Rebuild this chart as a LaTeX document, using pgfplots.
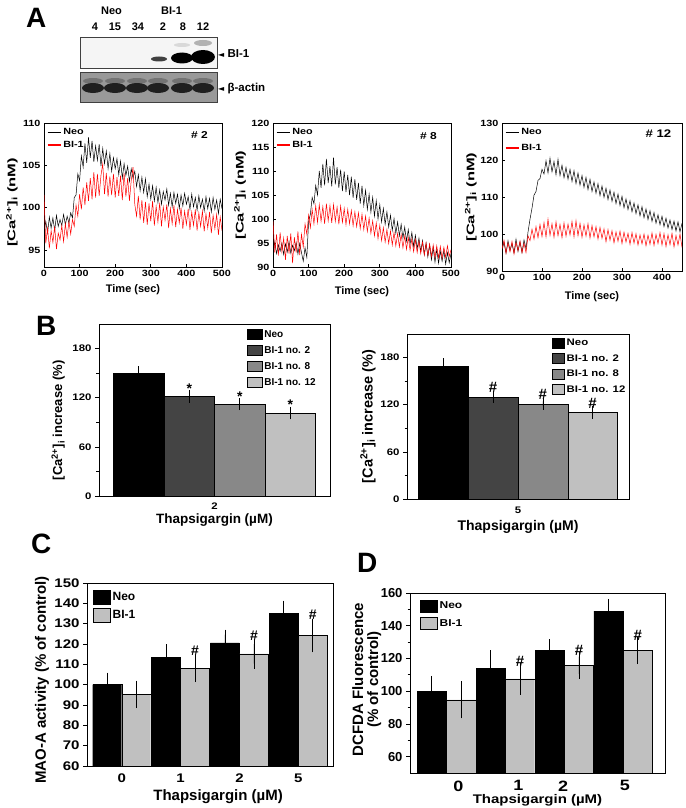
\documentclass[border=0pt]{standalone}
\usepackage{fontspec}
\setmainfont{Liberation Sans}
\newfontfamily\widefont{Liberation Sans}[FakeStretch=1.2]
\newfontfamily\xwidefont{Liberation Sans}[FakeStretch=1.5]
\newfontfamily\dejavu{DejaVu Sans}
\usepackage{pgfplots}
\usepackage{pgfplotstable}
\pgfplotsset{compat=1.18}
\newcommand{\fs}[1]{\fontsize{#1}{#1}\selectfont}
\definecolor{gA}{HTML}{444444}
\definecolor{gB}{HTML}{888888}
\definecolor{gC}{HTML}{C0C0C0}

\pgfplotsset{
  /pgf/number format/assume math mode=true,
  lineplot/.style={
    scale only axis, anchor=south west,
    tick pos=left, tick align=inside, major tick length=3pt,
    axis line style={line width=0.8pt},
    every tick/.style={black, line width=0.7pt},
    tick label style={font=\widefont\bfseries\fs{9}},
    xlabel={Time (sec)},
    xlabel style={font=\bfseries\fs{11}, anchor=center},
    ylabel={[Ca\textsuperscript{2+}]\textsubscript{i} (nM)},
    ylabel style={font=\xwidefont\bfseries\fs{11}, anchor=center},
    legend style={draw=none, fill=none, anchor=north west, at={(axis description cs:0.01,0.985)},
      font=\widefont\bfseries\fs{9}, row sep=1pt, inner sep=1pt},
    legend cell align=left,
    legend image code/.code={\draw[#1, line width=1.3pt] (0pt,0pt) -- (13pt,0pt);},
  },
  barchart/.style={
    scale only axis, anchor=south west, ybar=0pt,
    tick pos=left, tick align=outside,
    axis line style={line width=0.8pt},
    major tick length=4pt, minor tick length=2.5pt,
    every tick/.style={black, line width=0.7pt},
    major x tick style={draw=none},
    error bars/error bar style={line width=0.8pt, black},
    error bars/error mark options={line width=0.8pt, black, mark size=3.5pt},
    legend cell align=left,
    legend style={draw=none, fill=none, anchor=north west, inner sep=0pt},
  },
  mark text/.style={forget plot, sharp plot, draw=none, mark=none, nodes near coords,
    point meta=explicit symbolic, every node near coord/.style={anchor=south, #1}},
}

% panel A traces: time (sec), Neo, BI-1
\pgfplotstableread{
t neo bi
0 97.2 101.5
5 98.4 95.8
10 97.0 97.6
15 98.9 95.2
20 97.6 97.3
25 98.8 95.9
30 97.3 97.8
35 99.1 95.1
40 97.8 97.0
45 98.6 96.2
50 97.9 97.9
55 99.2 96.0
60 98.0 98.1
65 99.0 96.5
70 98.2 98.4
75 99.4 96.9
80 98.8 98.6
85 101.2 97.8
90 101.5 100.3
95 104.0 99.0
100 103.2 101.6
105 106.1 99.8
110 104.8 102.4
115 107.6 100.3
120 105.3 103.0
125 108.3 100.8
130 105.9 103.5
135 107.9 101.0
140 105.4 104.2
145 107.3 101.2
150 105.6 104.0
155 107.5 101.4
160 104.9 103.8
165 107.0 105.2
170 105.2 101.6
175 106.7 104.1
180 104.6 101.3
185 106.4 103.7
190 104.3 101.5
195 105.9 104.0
200 104.6 101.2
205 105.8 103.6
210 103.9 101.4
215 105.5 103.8
220 103.5 100.9
225 105.2 104.1
230 103.8 101.3
235 104.9 103.5
240 103.1 100.8
245 104.6 103.2
250 103.5 104.8
255 104.3 100.4
260 102.5 99.0
265 103.9 101.4
270 102.0 98.6
275 103.6 100.9
280 101.8 98.2
285 103.4 100.7
290 101.3 98.0
295 102.8 100.5
300 101.0 98.4
305 102.6 100.8
310 100.8 97.9
315 102.4 100.2
320 100.6 98.3
325 102.1 100.6
330 100.4 97.8
335 101.9 100.1
340 100.9 98.5
345 102.2 100.4
350 100.3 97.6
355 101.7 99.9
360 100.1 98.1
365 101.8 100.3
370 100.5 97.7
375 101.6 99.8
380 99.9 98.2
385 101.5 100.0
390 100.2 97.5
395 101.7 99.6
400 100.4 98.0
405 101.3 99.9
410 99.8 97.4
415 101.6 99.5
420 100.1 97.9
425 101.2 99.8
430 99.7 97.3
435 101.4 99.4
440 100.0 97.8
445 101.0 99.6
450 99.6 97.2
455 101.3 99.3
460 99.9 97.6
465 101.1 99.5
470 99.5 97.0
475 101.2 99.1
480 99.8 97.5
485 100.9 99.2
490 99.3 96.8
495 101.0 98.9
500 99.9 97.3
}\traceTwo

\pgfplotstableread{
t neo bi
0 93.0 99.5
5 95.2 93.0
10 92.8 96.8
15 94.6 92.4
20 93.3 97.2
25 95.0 93.1
30 92.6 96.0
35 94.8 91.5
40 93.1 96.5
45 95.3 92.8
50 92.9 97.0
55 94.5 90.8
60 93.4 96.2
65 95.1 93.0
70 92.7 97.4
75 94.9 92.5
80 93.0 96.8
85 91.2 94.2
90 94.0 99.0
95 92.0 96.8
100 99.5 100.8
105 101.0 98.2
110 104.5 102.0
115 103.2 99.0
120 107.0 102.8
125 105.0 99.3
130 110.0 103.0
135 106.5 99.5
140 111.5 102.6
145 107.0 99.0
150 112.5 103.2
155 107.5 99.6
160 111.0 102.8
165 106.8 99.2
170 112.8 103.0
175 107.2 99.5
180 110.8 102.5
185 106.5 98.9
190 110.3 102.7
195 105.8 99.3
200 109.9 102.2
205 105.6 98.8
210 109.2 102.0
215 105.0 99.0
220 108.8 101.8
225 104.4 98.6
230 108.3 101.5
235 104.0 98.4
240 107.5 101.3
245 103.2 98.0
250 106.9 101.0
255 102.8 97.8
260 106.0 100.6
265 102.0 97.4
270 105.2 100.2
275 101.4 97.0
280 104.5 99.6
285 100.6 96.5
290 103.8 99.2
295 100.0 95.9
300 103.0 98.7
305 99.4 95.5
310 102.2 98.2
315 98.9 95.2
320 101.5 97.8
325 98.3 94.9
330 100.8 97.5
335 97.6 94.6
340 100.1 97.2
345 97.0 94.4
350 99.4 97.0
355 96.5 94.2
360 98.9 96.8
365 96.0 94.0
370 98.3 96.5
375 95.4 93.7
380 97.8 96.2
385 94.8 93.5
390 97.2 95.9
395 94.3 93.2
400 96.6 95.7
405 93.8 93.0
410 96.0 95.4
415 93.2 92.8
420 95.5 95.2
425 92.6 92.5
430 95.0 95.0
435 92.1 92.4
440 94.6 94.8
445 91.5 92.2
450 94.0 94.6
455 91.0 92.0
460 93.7 94.4
465 90.8 91.9
470 93.3 94.3
475 91.2 91.8
480 93.5 94.1
485 90.6 92.0
490 93.0 94.4
495 90.9 92.2
500 92.8 93.6
}\traceEight

\pgfplotstableread{
t neo bi
0 95.5 96.0
5 97.8 98.3
10 94.8 94.8
15 98.2 97.6
20 95.6 95.2
25 97.4 98.0
30 94.9 94.6
35 98.6 97.7
40 95.3 95.5
45 97.9 98.1
50 95.0 94.9
55 98.4 97.5
60 96.0 95.0
65 100.5 99.5
70 104.0 98.2
75 107.0 101.3
80 110.5 98.6
85 111.5 102.0
90 114.5 99.0
95 115.0 102.6
100 117.5 99.3
105 116.2 103.1
110 119.8 99.2
115 116.5 104.0
120 120.5 99.6
125 116.8 102.8
130 119.6 99.1
135 116.0 103.3
140 120.2 99.5
145 115.8 102.6
150 118.6 99.0
155 115.2 103.0
160 118.0 99.4
165 114.8 102.7
170 117.5 99.7
175 114.2 103.4
180 117.1 99.2
185 113.6 103.6
190 116.5 99.5
195 113.2 102.9
200 115.8 99.1
205 112.6 102.5
210 115.3 99.4
215 112.0 102.8
220 114.8 98.9
225 111.5 102.3
230 114.1 99.2
235 111.0 102.0
240 113.6 98.6
245 110.4 101.8
250 113.0 98.8
255 109.9 101.4
260 112.4 97.9
265 109.3 101.2
270 111.9 98.3
275 108.8 100.9
280 111.3 97.6
285 108.2 100.6
290 110.8 98.0
295 107.7 100.8
300 110.2 97.4
305 107.1 100.5
310 109.5 97.8
315 106.6 100.2
320 109.0 97.2
325 106.0 100.4
330 108.4 97.5
335 105.5 100.1
340 107.9 97.0
345 104.9 99.8
350 107.4 97.3
355 104.4 100.0
360 106.8 96.8
365 103.9 99.7
370 106.3 97.2
375 103.4 100.3
380 105.8 96.9
385 102.9 99.9
390 105.2 97.4
395 102.5 100.4
400 104.8 97.0
405 102.0 100.1
410 104.3 96.6
415 101.6 99.8
420 103.8 97.1
425 101.2 100.2
430 103.5 96.5
435 100.8 99.6
440 103.3 97.0
445 100.6 100.0
450 102.9 96.4
}\traceTwelve

\begin{document}
\begin{tikzpicture}
\path[use as bounding box] (0pt,0pt) rectangle (685pt,-808pt);

% ---------- western blot (image part of panel A) ----------
\begin{scope}[x=1pt,y=-1pt]
  \node[font=\bfseries\fs{28}, anchor=base west, inner sep=0pt] at (26,28) {A};
  \node[font=\bfseries\fs{11}, anchor=base] at (111.5,15) {Neo};
  \node[font=\bfseries\fs{11}, anchor=base] at (171.5,15) {BI-1};
  \foreach \x/\l in {95/4,115/15,138/34,163/2,183/8,203/12}
    \node[font=\bfseries\fs{11}, anchor=base] at (\x,31) {\l};
  \draw[fill=black!4, draw=black!75, line width=0.8pt] (80,37) rectangle (217,68);
  \draw[fill=black!40, draw=black!75, line width=0.8pt] (80,72) rectangle (217,102);
  \fill[black!75] (159,59) ellipse [x radius=8, y radius=2.5];
  \fill[black!15] (182,45) ellipse [x radius=8, y radius=2];
  \fill[black] (182,58) ellipse [x radius=11, y radius=5.5];
  \fill[black!30] (203,43) ellipse [x radius=9, y radius=3];
  \fill[black] (203,57) ellipse [x radius=12, y radius=7];
  \foreach \x in {93,115,137,158,182,203} {
    \fill[black!55] (\x,81) ellipse [x radius=10, y radius=3];
    \fill[black!88] (\x,88) ellipse [x radius=11, y radius=5];
  }
  \node[font=\bfseries\fs{11.5}, anchor=base west, inner sep=0pt] at (218,57) {{\dejavu\fs{8}◄} BI-1};
  \node[font=\bfseries\fs{11.5}, anchor=base west, inner sep=0pt] at (218,91) {{\dejavu\fs{8}◄} β-actin};
  \node[font=\bfseries\fs{28}, anchor=base west, inner sep=0pt] at (36,335) {B};
  \node[font=\bfseries\fs{28}, anchor=base west, inner sep=0pt] at (31,553) {C};
  \node[font=\bfseries\fs{28}, anchor=base west, inner sep=0pt] at (357,572) {D};
\end{scope}

% ---------- panel A, clone 2 ----------
\begin{axis}[lineplot, at={(44pt,-267pt)}, width=178pt, height=144pt,
  xmin=0, xmax=500, xtick={0,100,...,500},
  ymin=93, ymax=110, ytick={95,100,105,110},
  x label style={at={(axis description cs:0.5,-0.16)}},
  y label style={at={(axis description cs:-0.18,0.45)}}]
  \addplot[black, line width=0.5pt] table[x=t, y=neo] {\traceTwo};
  \addplot[red, line width=0.5pt] table[x=t, y=bi] {\traceTwo};
  \legend{Neo, BI-1}
  \node[font=\widefont\bfseries\fs{10}, anchor=east] at (axis description cs:0.94,0.92) {\# 2};
\end{axis}

% ---------- panel A, clone 8 ----------
\begin{axis}[lineplot, at={(273pt,-267pt)}, width=178pt, height=144pt,
  xmin=0, xmax=500, xtick={0,100,...,500},
  ymin=90, ymax=120, ytick={90,95,...,120},
  x label style={at={(axis description cs:0.5,-0.17)}},
  y label style={at={(axis description cs:-0.185,0.5)}}]
  \addplot[black, line width=0.5pt] table[x=t, y=neo] {\traceEight};
  \addplot[red, line width=0.5pt] table[x=t, y=bi] {\traceEight};
  \legend{Neo, BI-1}
  \node[font=\widefont\bfseries\fs{10}, anchor=east] at (axis description cs:0.94,0.91) {\# 8};
\end{axis}

% ---------- panel A, clone 12 ----------
\begin{axis}[lineplot, at={(502pt,-271pt)}, width=180pt, height=148pt,
  xmin=0, xmax=450, xtick={0,100,...,400},
  ymin=90, ymax=130, ytick={90,100,...,130},
  x label style={at={(axis description cs:0.5,-0.17)}},
  y label style={at={(axis description cs:-0.173,0.5)}},
  legend style={row sep=4pt}]
  \addplot[black, line width=0.5pt] table[x=t, y=neo] {\traceTwelve};
  \addplot[red, line width=0.5pt] table[x=t, y=bi] {\traceTwelve};
  \legend{Neo, BI-1}
  \node[font=\widefont\bfseries\fs{11}, anchor=east] at (axis description cs:0.96,0.93) {\# 12};
\end{axis}

% ---------- panel B, 2 uM ----------
\begin{axis}[barchart, at={(99pt,-496pt)}, width=231pt, height=172pt,
  bar width=50.5pt, xmin=-1, xmax=1, xtick={0}, xticklabels={2},
  ymin=0, ymax=210, ytick={0,60,120,180}, minor ytick={30,90,150},
  tick label style={font=\widefont\bfseries\fs{9.5}},
  xticklabel style={yshift=1pt},
  xlabel={Thapsigargin (µM)},
  xlabel style={font=\bfseries\fs{13.5}, at={(axis description cs:0.5,-0.142)}, anchor=center},
  ylabel={[Ca\textsuperscript{2+}]\textsubscript{i} increase (\%)},
  ylabel style={font=\bfseries\fs{13}, at={(axis description cs:-0.177,0.44)}, anchor=center},
  legend style={at={(axis description cs:0.639,0.975)}, font=\bfseries\fs{10}, row sep=3.5pt},
  legend image code/.code={\draw[#1, draw=black, line width=0.5pt] (0pt,-5pt) rectangle (15pt,5pt);}]
  \addplot[fill=black, draw=black, bar shift=-75.75pt, error bars/.cd, y dir=both, y explicit]
    coordinates {(0,150.2) +- (0,4.1)};
  \addplot[fill=gA, draw=black, bar shift=-25.25pt, error bars/.cd, y dir=both, y explicit]
    coordinates {(0,121.6) +- (0,3.5)};
  \addplot[fill=gB, draw=black, bar shift=25.25pt, error bars/.cd, y dir=both, y explicit]
    coordinates {(0,112.2) +- (0,3.0)};
  \addplot[fill=gC, draw=black, bar shift=75.75pt, error bars/.cd, y dir=both, y explicit]
    coordinates {(0,101.2) +- (0,3.5)};
  \legend{Neo, BI-1 no. 2, BI-1 no. 8, BI-1 no. 12}
  \addplot[mark text={font=\bfseries\fs{14}, inner sep=0pt}]
    coordinates {(-0.2186,125.5) [*] (0.2186,115.5) [*] (0.6558,105.0) [*]};
\end{axis}

% ---------- panel B, 5 uM ----------
\begin{axis}[barchart, at={(407pt,-499pt)}, width=222pt, height=165pt,
  bar width=49.75pt, xmin=-1, xmax=1, xtick={0}, xticklabels={5},
  ymin=0, ymax=210, ytick={0,60,120,180}, minor ytick={30,90,150},
  tick label style={font=\widefont\bfseries\fs{9.5}},
  xlabel={Thapsigargin (µM)},
  xlabel style={font=\bfseries\fs{14}, at={(axis description cs:0.5,-0.17)}, anchor=center},
  ylabel={[Ca\textsuperscript{2+}]\textsubscript{i} increase (\%)},
  ylabel style={font=\bfseries\fs{14.5}, at={(axis description cs:-0.176,0.5)}, anchor=center},
  legend style={at={(axis description cs:0.651,0.984)}, font=\widefont\bfseries\fs{9.5}, row sep=3.5pt},
  legend image code/.code={\draw[#1, draw=black, line width=0.5pt] (0pt,-5pt) rectangle (12.5pt,5pt);}]
  \addplot[fill=black, draw=black, bar shift=-74.6pt, error bars/.cd, y dir=both, y explicit]
    coordinates {(0,169.4) +- (0,5.0)};
  \addplot[fill=gA, draw=black, bar shift=-24.9pt, error bars/.cd, y dir=both, y explicit]
    coordinates {(0,130.0) +- (0,3.3)};
  \addplot[fill=gB, draw=black, bar shift=24.9pt, error bars/.cd, y dir=both, y explicit]
    coordinates {(0,121.1) +- (0,3.0)};
  \addplot[fill=gC, draw=black, bar shift=74.6pt, error bars/.cd, y dir=both, y explicit]
    coordinates {(0,110.1) +- (0,3.2)};
  \legend{Neo, BI-1 no. 2, BI-1 no. 8, BI-1 no. 12}
  \addplot[mark text={font=\bfseries\fs{15}, inner sep=1.5pt}]
    coordinates {(-0.2243,133.3) [\#] (0.2243,124.1) [\#] (0.672,113.3) [\#]};
\end{axis}

% ---------- panel C ----------
\begin{axis}[barchart, at={(87pt,-766pt)}, width=246pt, height=183pt,
  bar width=29pt, xmin=-0.59, xmax=3.59, xtick={0,1,2,3}, xticklabels={0,1,2,5},
  ymin=60, ymax=150, ytick={60,70,...,150},
  tick label style={font=\widefont\bfseries\fs{12.5}},
  error bars/error mark options={line width=0.8pt, black, mark size=5pt},
  xlabel={Thapsigargin (µM)},
  xlabel style={font=\bfseries\fs{15}, at={(axis description cs:0.533,-0.165)}, anchor=center},
  ylabel={MAO-A activity (\% of control)},
  ylabel style={font=\bfseries\fs{15}, at={(axis description cs:-0.183,0.47)}, anchor=center},
  legend style={at={(axis description cs:0.024,0.962)}, font=\bfseries\fs{12}, row sep=3.5pt},
  legend image code/.code={\draw[#1, draw=black, line width=0.5pt] (0pt,-7pt) rectangle (17pt,7pt);}]
  \addplot[fill=black, draw=black, bar shift=-14.5pt, error bars/.cd, y dir=both, y explicit]
    coordinates {(0,100.0) +- (0,3.5) (1,113.4) +- (0,4.1) (2,120.5) +- (0,4.1) (3,135.1) +- (0,3.8)};
  \addplot[fill=gC, draw=black, bar shift=14.5pt, error bars/.cd, y dir=both, y explicit]
    coordinates {(0,95.2) +- (0,4.3) (1,108.0) +- (0,4.3) (2,115.1) +- (0,4.8) (3,124.1) +- (0,5.7)};
  \legend{Neo, BI-1}
  \addplot[mark text={font=\bfseries\fs{14}, inner sep=0pt, yshift=4pt}]
    coordinates {(1.2464,112.3) [\#] (2.2464,119.9) [\#] (3.2464,129.8) [\#]};
\end{axis}

% ---------- panel D ----------
\begin{axis}[barchart, at={(410pt,-773pt)}, width=255pt, height=180pt,
  bar width=29.3pt, xmin=-0.62, xmax=3.71, xtick={0.2,1.22,1.98,3.03}, xticklabels={0,1,2,5},
  ymin=50, ymax=160, ytick={60,80,...,160}, minor ytick={70,90,...,150},
  yticklabel style={font=\bfseries\fs{13}},
  xticklabel style={font=\widefont\bfseries\fs{15}},
  error bars/error mark options={line width=0.8pt, black, mark size=5pt},
  xlabel={Thapsigargin (µM)},
  xlabel style={font=\widefont\bfseries\fs{12.5}, at={(axis description cs:0.5,-0.15)}, anchor=center},
  ylabel={DCFDA Fluorescence\\(\% of control)},
  ylabel style={font=\bfseries\fs{15}, align=center, at={(axis description cs:-0.17,0.52)}, anchor=center},
  legend style={at={(axis description cs:0.039,0.963)}, font=\widefont\bfseries\fs{10}, row sep=5pt},
  legend image code/.code={\draw[#1, draw=black, line width=0.5pt] (0pt,-6pt) rectangle (17pt,6pt);}]
  \addplot[fill=black, draw=black, bar shift=-14.65pt, error bars/.cd, y dir=both, y explicit]
    coordinates {(0,100.0) +- (0,6.3) (1,114.0) +- (0,8.1) (2,124.8) +- (0,3.9) (3,149.0) +- (0,4.3)};
  \addplot[fill=gC, draw=black, bar shift=14.65pt, error bars/.cd, y dir=both, y explicit]
    coordinates {(0,94.7) +- (0,8.3) (1,107.5) +- (0,6.6) (2,115.9) +- (0,5.3) (3,124.8) +- (0,5.2)};
  \legend{Neo, BI-1}
  \addplot[mark text={font=\bfseries\fs{15}, inner sep=0pt, yshift=1pt}]
    coordinates {(1.2488,114.1) [\#] (2.2488,121.2) [\#] (3.2488,130.0) [\#]};
\end{axis}
\end{tikzpicture}
\end{document}
